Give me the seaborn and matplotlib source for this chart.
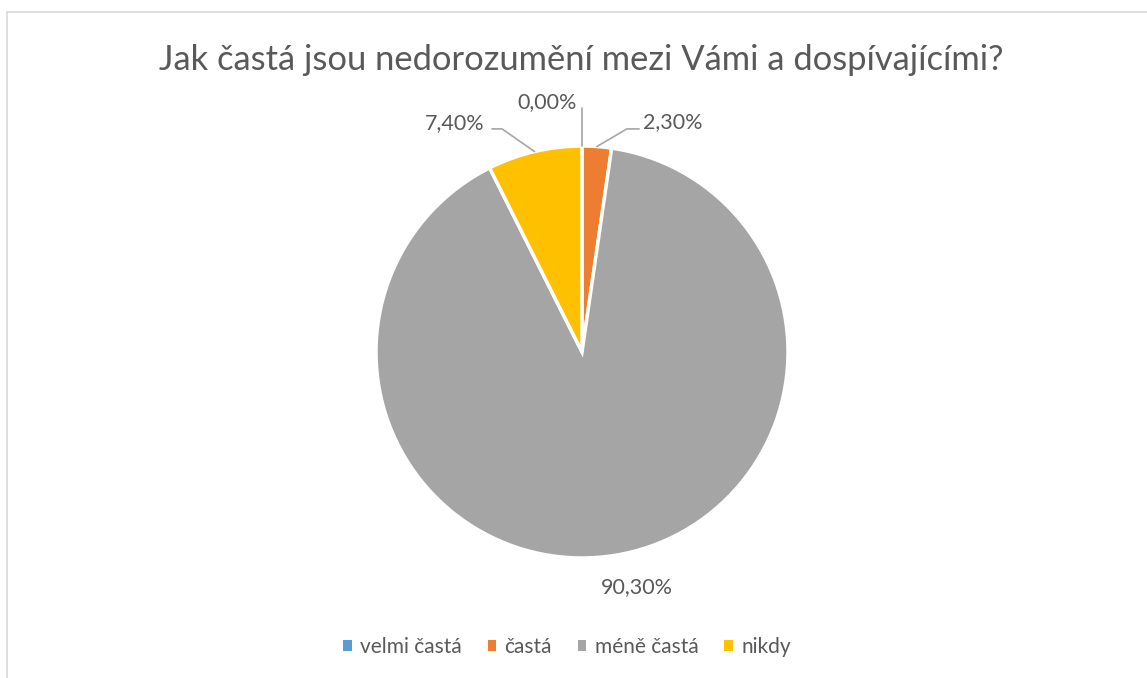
import numpy as np
import seaborn as sns
import matplotlib.pyplot as plt
from matplotlib.patches import Rectangle, Patch

categories = ["velmi častá", "častá", "méně častá", "nikdy"]
values = [0.0, 2.3, 90.3, 7.4]
labels = ["0,00%", "2,30%", "90,30%", "7,40%"]
colors = ["#5B9BD5", "#ED7D31", "#A5A5A5", "#FFC000"]
title = "Jak častá jsou nedorozumění mezi Vámi a dospívajícími?"

sns.set_theme(style="white")
plt.rcParams['font.family'] = ['Lato', 'DejaVu Sans']
txt = "#595959"
line_c = "#A6A6A6"

W, H = 1147, 678
fig = plt.figure(figsize=(W / 100, H / 100), dpi=100)

# chart frame (only top and left edges visible)
fig.patches.append(Rectangle((6.5 / W, -0.1), 1.2, 1 - 12 / H + 0.1, transform=fig.transFigure,
                             fill=False, edgecolor="#D9D9D9", linewidth=1.2))

cx, cy, r = 582, 352, 206
ax = fig.add_axes([(cx - r) / W, (H - cy - r) / H, 2 * r / W, 2 * r / H])
wedges, _ = ax.pie(values, colors=colors, startangle=90, counterclock=False,
                   wedgeprops=dict(edgecolor="white", linewidth=2.5))
ax.set_xlim(-1, 1)
ax.set_ylim(-1, 1)
ax.set_aspect("equal")
ax.axis("off")

fs = 15.5
# 0,00%
ax.plot([0, 0], [1.0, 1.184], color=line_c, lw=1.2, clip_on=False)
ax.text(-0.024, 1.214, labels[0], ha="right", va="center", color=txt, fontsize=fs)

# 2,30%
a = np.deg2rad((wedges[1].theta1 + wedges[1].theta2) / 2)
ax.plot([np.cos(a), 0.218, 0.277], [np.sin(a), 1.083, 1.083],
        color=line_c, lw=1.2, clip_on=False)
ax.text(0.296, 1.117, labels[1], ha="left", va="center", color=txt, fontsize=fs)

# 7,40%
a = np.deg2rad((wedges[3].theta1 + wedges[3].theta2) / 2)
ax.plot([np.cos(a), -0.388, -0.437], [np.sin(a), 1.083, 1.083],
        color=line_c, lw=1.2, clip_on=False)
ax.text(-0.471, 1.112, labels[3], ha="right", va="center", color=txt, fontsize=fs)

# 90,30%
ax.text(0.267, -1.141, labels[2], ha="center", va="center", color=txt, fontsize=fs)

fig.text(581 / W, 1 - 60 / H, title, ha="center", va="center", color=txt, fontsize=24.8)

handles = [Patch(facecolor=c, edgecolor="none") for c in colors]
fig.legend(handles, categories, loc="center", bbox_to_anchor=(567 / W, 1 - 647 / H), ncol=4,
           frameon=False, handlelength=0.4, handleheight=0.4, handletextpad=0.4,
           columnspacing=1.25, fontsize=15, labelcolor=txt)

fig.savefig("out.png", dpi=100, facecolor="white")
